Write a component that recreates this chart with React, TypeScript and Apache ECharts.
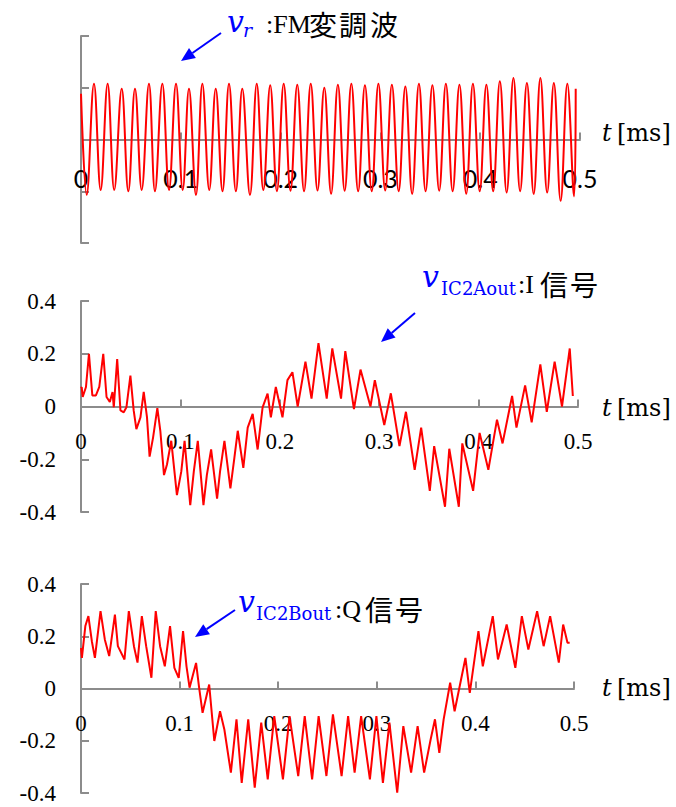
import React, { useEffect, useRef } from 'react';
import * as echarts from 'echarts';

// Panel 1: FM modulated wave (extrema), time in ms
const fmT = [0, 0.0057, 0.0130, 0.0197, 0.0267, 0.0333, 0.0408, 0.0474, 0.0541, 0.0608, 0.0681, 0.0741, 0.0815, 0.0882, 0.0952, 0.1019, 0.1082, 0.1152, 0.1216, 0.1285, 0.1350, 0.1418, 0.1483, 0.1552, 0.1616, 0.1693, 0.1761, 0.1827, 0.1896, 0.1963, 0.2031, 0.2099, 0.2167, 0.2235, 0.2302, 0.2370, 0.2438, 0.2506, 0.2574, 0.2642, 0.2709, 0.2777, 0.2845, 0.2913, 0.2980, 0.3048, 0.3115, 0.3183, 0.3250, 0.3318, 0.3386, 0.3453, 0.3521, 0.3589, 0.3656, 0.3724, 0.3792, 0.3860, 0.3927, 0.3995, 0.4062, 0.4130, 0.4197, 0.4265, 0.4333, 0.4400, 0.4468, 0.4536, 0.4603, 0.4671, 0.4738, 0.4806, 0.4873, 0.4940, 0.4957];
const fmV = [0.177, -0.214, 0.215, -0.195, 0.215, -0.195, 0.196, -0.2, 0.196, -0.195, 0.215, -0.2, 0.215, -0.195, 0.215, -0.195, 0.196, -0.214, 0.215, -0.195, 0.196, -0.2, 0.215, -0.2, 0.196, -0.214, 0.215, -0.195, 0.21, -0.2, 0.215, -0.198, 0.212, -0.2, 0.215, -0.197, 0.2, -0.21, 0.212, -0.198, 0.215, -0.2, 0.21, -0.2, 0.215, -0.197, 0.212, -0.2, 0.205, -0.21, 0.215, -0.2, 0.21, -0.198, 0.215, -0.2, 0.212, -0.21, 0.215, -0.2, 0.212, -0.2, 0.225, -0.205, 0.238, -0.2, 0.218, -0.21, 0.238, -0.205, 0.218, -0.237, 0.215, -0.22, 0.196];

// Panel 2: I signal
const iT = [0, 0.0007, 0.0017, 0.005, 0.008, 0.0114, 0.015, 0.0184, 0.0224, 0.0257, 0.029, 0.0317, 0.033, 0.0364, 0.0397, 0.043, 0.0457, 0.0497, 0.053, 0.0557, 0.0598, 0.0631, 0.0664, 0.069, 0.0725, 0.0768, 0.0798, 0.0835, 0.0865, 0.0908, 0.0965, 0.1009, 0.1042, 0.1099, 0.1135, 0.1175, 0.1232, 0.1266, 0.1309, 0.1369, 0.1399, 0.1443, 0.1503, 0.1543, 0.1577, 0.1633, 0.1677, 0.1727, 0.1777, 0.1827, 0.1877, 0.191, 0.196, 0.2027, 0.2077, 0.2127, 0.2180, 0.2258, 0.2319, 0.2389, 0.2472, 0.2528, 0.2616, 0.2659, 0.2746, 0.2812, 0.2912, 0.2956, 0.3051, 0.3117, 0.3204, 0.3269, 0.3357, 0.3422, 0.3509, 0.3553, 0.3662, 0.3705, 0.3801, 0.3836, 0.3945, 0.4010, 0.4098, 0.4185, 0.4241, 0.4337, 0.4381, 0.4468, 0.4534, 0.4621, 0.4686, 0.4765, 0.4839, 0.4917, 0.4948];
const iV = [0.07, 0.074, 0.036, 0.074, 0.2, 0.042, 0.042, 0.074, 0.2, 0.036, 0.017, 0.055, -0.003, 0.18, -0.015, -0.022, -0.003, 0.117, -0.015, -0.086, -0.041, 0.055, -0.041, -0.19, -0.118, -0.006, -0.092, -0.26, -0.22, -0.13, -0.336, -0.246, -0.13, -0.374, -0.246, -0.13, -0.374, -0.26, -0.163, -0.349, -0.246, -0.13, -0.31, -0.195, -0.092, -0.233, -0.08, -0.028, -0.163, -0.003, 0.049, -0.041, 0.074, -0.041, 0.1, 0.13, 0.0, 0.17, 0.03, 0.24, 0.03, 0.22, 0.03, 0.21, -0.01, 0.14, 0.0, 0.1, -0.07, 0.05, -0.15, -0.02, -0.24, -0.08, -0.32, -0.15, -0.38, -0.16, -0.38, -0.14, -0.32, -0.1, -0.24, -0.05, -0.14, 0.04, -0.08, 0.08, -0.06, 0.16, -0.02, 0.17, 0.0, 0.22, 0.04];

// Panel 3: Q signal
const qT = [0, 0.0009, 0.0044, 0.0075, 0.011, 0.0141, 0.0198, 0.0242, 0.0286, 0.0344, 0.0374, 0.0441, 0.0485, 0.0537, 0.0573, 0.0617, 0.0661, 0.0714, 0.0758, 0.0802, 0.085, 0.0903, 0.0947, 0.0991, 0.1035, 0.107, 0.1101, 0.1167, 0.1198, 0.1233, 0.13, 0.1352, 0.141, 0.1454, 0.152, 0.1577, 0.163, 0.1696, 0.1762, 0.1828, 0.1894, 0.196, 0.2048, 0.2115, 0.2203, 0.2269, 0.2344, 0.241, 0.2489, 0.2555, 0.2643, 0.2709, 0.2775, 0.2841, 0.293, 0.2996, 0.3062, 0.3128, 0.3207, 0.3269, 0.3348, 0.3414, 0.348, 0.3546, 0.359, 0.3634, 0.3678, 0.3744, 0.3789, 0.3899, 0.3943, 0.4031, 0.4075, 0.4176, 0.4229, 0.4317, 0.4405, 0.4471, 0.4537, 0.4626, 0.4692, 0.4758, 0.4846, 0.489, 0.4934, 0.4956];
const qV = [0.155, 0.117, 0.239, 0.277, 0.181, 0.117, 0.296, 0.187, 0.124, 0.283, 0.162, 0.111, 0.296, 0.162, 0.099, 0.277, 0.162, 0.041, 0.296, 0.162, 0.085, 0.239, 0.079, 0.041, 0.22, 0.085, 0.003, 0.098, 0.003, -0.093, 0.015, -0.201, -0.087, -0.157, -0.322, -0.118, -0.361, -0.118, -0.38, -0.131, -0.348, -0.106, -0.348, -0.106, -0.335, -0.106, -0.348, -0.106, -0.335, -0.099, -0.335, -0.106, -0.322, -0.106, -0.348, -0.106, -0.361, -0.131, -0.399, -0.144, -0.322, -0.144, -0.322, -0.195, -0.118, -0.246, -0.118, 0.022, -0.087, 0.117, -0.017, 0.22, 0.085, 0.277, 0.111, 0.245, 0.079, 0.277, 0.149, 0.296, 0.162, 0.277, 0.099, 0.245, 0.175, 0.175];

const X_MIN = 0;
const X_MAX = 0.5;
const X_STEP = 0.1;
const Y_MIN = -0.4;
const Y_MAX = 0.4;
const Y_STEP = 0.2;

const AXIS_COLOR = '#8c8c8c';
const SERIF = '"Liberation Serif", "Times New Roman", serif';
const WIDE_SERIF = '"DejaVu Serif", serif';
const CJK = '"Noto Sans CJK JP", sans-serif';
const BLUE = '#0000ff';

function zip(t: number[], v: number[]) {
  return t.map((x, i) => [x, v[i]]);
}

function arrow(x1: number, y1: number, tx: number, ty: number) {
  const dx = tx - x1;
  const dy = ty - y1;
  const len = Math.sqrt(dx * dx + dy * dy);
  const ux = dx / len;
  const uy = dy / len;
  const hl = 14;
  const hw = 6;
  const bx = tx - hl * ux;
  const by = ty - hl * uy;
  const nx = -uy;
  const ny = ux;
  return [
    { type: 'line', shape: { x1, y1, x2: bx, y2: by }, style: { stroke: BLUE, lineWidth: 2 } },
    {
      type: 'polygon',
      shape: { points: [[tx, ty], [bx + hw * nx, by + hw * ny], [bx - hw * nx, by - hw * ny]] },
      style: { fill: BLUE },
    },
  ];
}

function txt(x: number, y: number, text: string, font: string, size: number, color = '#000', italic = false) {
  return {
    type: 'text',
    x,
    y,
    style: {
      text,
      fill: color,
      fontFamily: font,
      fontSize: size,
      fontStyle: italic ? 'italic' : 'normal',
      verticalAlign: 'middle',
      align: 'left',
    },
  };
}

const GRIDS = [
  { left: 81, top: 36, width: 499, height: 207 },
  { left: 81, top: 301, width: 497, height: 211 },
  { left: 81, top: 584, width: 493, height: 209 },
];
// gap between the zero line and the top of the x tick labels
const LABEL_GAP = [26, 23, 23];

export default function App() {
  const ref = useRef<HTMLDivElement>(null);
  useEffect(() => {
    if (!ref.current) return;
    const chart = echarts.init(ref.current, null, { renderer: 'svg' });

    const grids = GRIDS.map((g) => ({ ...g, outerBoundsMode: 'none', containLabel: false }));

    const xAxes = [0, 1, 2].map((i) => ({
      type: 'value',
      gridIndex: i,
      min: X_MIN,
      max: X_MAX,
      interval: X_STEP,
      axisLine: { show: true, onZero: true, lineStyle: { color: AXIS_COLOR, width: 2 } },
      axisTick: { show: true, inside: true, length: 7, lineStyle: { color: AXIS_COLOR, width: 2 } },
      axisLabel: {
        show: true,
        margin: LABEL_GAP[i] - GRIDS[i].height / 2,
        color: '#000',
        fontSize: i === 0 ? 25 : 23,
        fontFamily: i === 0 ? 'Lato, "Noto Sans", sans-serif' : SERIF,
        showMinLabel: true,
        showMaxLabel: true,
      },
      splitLine: { show: false },
    }));

    const yAxes = [0, 1, 2].map((i) => ({
      type: 'value',
      gridIndex: i,
      min: Y_MIN,
      max: Y_MAX,
      interval: Y_STEP,
      axisLine: { show: true, onZero: false, lineStyle: { color: AXIS_COLOR, width: 2 } },
      axisTick: { show: true, inside: true, length: 8, lineStyle: { color: AXIS_COLOR, width: 2 } },
      axisLabel: {
        show: i !== 0,
        margin: 25,
        color: '#000',
        fontSize: 23,
        fontFamily: SERIF,
        padding: [8, 0, 0, 0],
        formatter: (v: number) => (Math.abs(v) < 1e-9 ? '0' : v.toFixed(1)),
      },
      splitLine: { show: false },
    }));

    const lineCommon = {
      type: 'line',
      showSymbol: false,
      symbol: 'none',
      lineStyle: { color: '#ff0000', width: 2 },
      silent: true,
      clip: false,
    };

    const graphic: any[] = [
      // panel 1 annotation
      txt(227, 21.5, 'v', WIDE_SERIF, 30, BLUE, true),
      txt(243, 30, 'r', WIDE_SERIF, 19, BLUE, true),
      txt(266, 24, ':FM', SERIF, 26),
      txt(309, 24, '変', CJK, 28),
      txt(339, 24, '調', CJK, 28),
      txt(370, 24, '波', CJK, 28),
      ...arrow(221, 33, 181, 61),
      // panel 2 annotation
      txt(422, 276.5, 'v', WIDE_SERIF, 30, BLUE, true),
      txt(441, 288, 'IC2Aout', WIDE_SERIF, 18, BLUE),
      txt(518, 284, ':I', SERIF, 26),
      txt(540, 284, '信', CJK, 28),
      txt(570, 284, '号', CJK, 28),
      ...arrow(415, 313, 381, 342),
      // panel 3 annotation
      txt(238, 601.5, 'v', WIDE_SERIF, 30, BLUE, true),
      txt(256, 613, 'IC2Bout', WIDE_SERIF, 18, BLUE),
      txt(335, 609, ':Q', SERIF, 26),
      txt(365, 609, '信', CJK, 28),
      txt(395, 609, '号', CJK, 28),
      ...arrow(235, 610, 195, 637),
      // axis titles
      txt(602, 133, 't', WIDE_SERIF, 24, '#000', true),
      txt(617, 133, '[ms]', WIDE_SERIF, 24),
      txt(602, 408, 't', WIDE_SERIF, 24, '#000', true),
      txt(617, 408, '[ms]', WIDE_SERIF, 24),
      txt(602, 688, 't', WIDE_SERIF, 24, '#000', true),
      txt(617, 688, '[ms]', WIDE_SERIF, 24),
    ];

    chart.setOption({
      animation: false,
      backgroundColor: '#ffffff',
      grid: grids,
      xAxis: xAxes,
      yAxis: yAxes,
      series: [
        { ...lineCommon, xAxisIndex: 0, yAxisIndex: 0, smooth: 0.4, data: zip(fmT, fmV) },
        { ...lineCommon, xAxisIndex: 1, yAxisIndex: 1, data: zip(iT, iV) },
        { ...lineCommon, xAxisIndex: 2, yAxisIndex: 2, data: zip(qT, qV) },
      ],
      graphic,
    });
    return () => chart.dispose();
  }, []);
  return <div ref={ref} style={{ position: 'absolute', left: 0, top: 0, width: 676, height: 807 }} />;
}
